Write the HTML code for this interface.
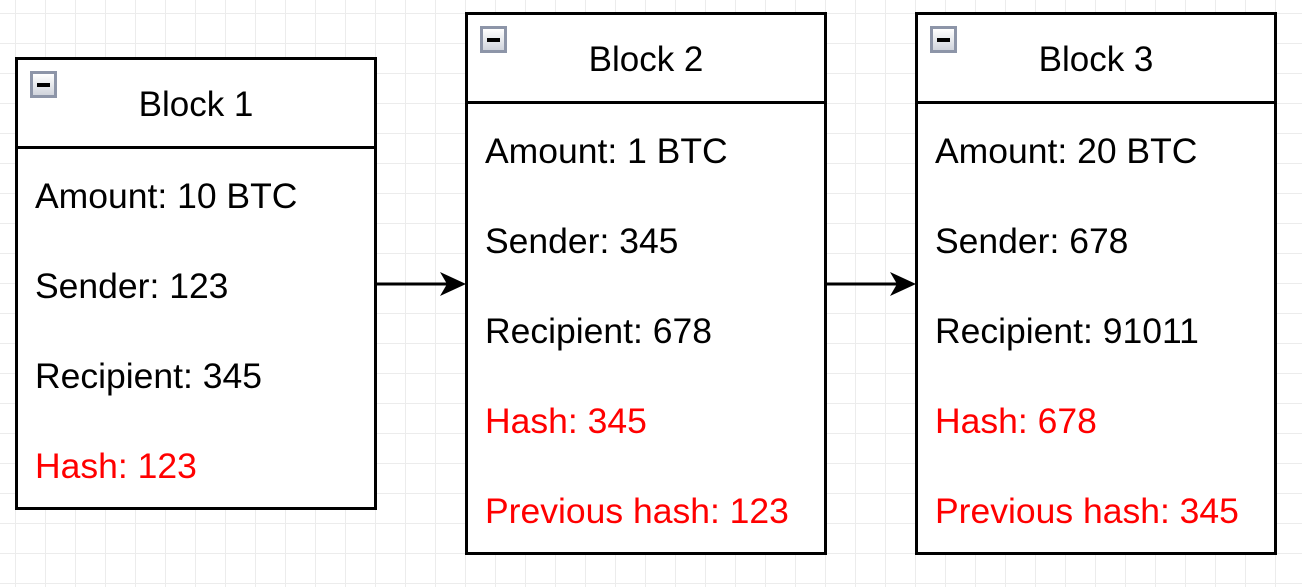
<!DOCTYPE html>
<html><head><style>
body{margin:0;width:1302px;height:587px;overflow:hidden;background:#fff;
background-image:linear-gradient(#ececec 1px,transparent 1px),linear-gradient(90deg,#ececec 1px,transparent 1px);
background-size:30px 30px;background-position:15px 13px;font-family:"Liberation Sans",Arial,sans-serif;position:relative}
.b{position:absolute;box-sizing:border-box;border:3px solid #000;background:#fff;width:362px}
.h{height:89px;border-bottom:3px solid #000;position:relative;box-sizing:border-box}
.h span{position:absolute;left:0;right:0;text-align:center;top:25px;font-size:35px}
.ic{position:absolute;left:12px;top:11px;width:27px;height:27px;box-sizing:border-box;border:3px solid #8d95a8;background:linear-gradient(#fff,#d0d4dc)}
.ic:after{content:"";position:absolute;left:4px;right:4px;top:9px;height:4px;background:#000}
.r{position:absolute;left:17px;font-size:35.5px;line-height:40px}
.red{color:#f00}
</style></head><body>
<div class="b" style="left:15px;top:57px;height:453px">
<div class="h"><div class="ic"></div><span>Block 1</span></div>
<div class="r" style="top:116px">Amount: 10 BTC</div>
<div class="r" style="top:206px">Sender: 123</div>
<div class="r" style="top:296px">Recipient: 345</div>
<div class="r red" style="top:386px">Hash: 123</div>
</div>
<div class="b" style="left:465px;top:12px;height:543px">
<div class="h"><div class="ic"></div><span>Block 2</span></div>
<div class="r" style="top:116px">Amount: 1 BTC</div>
<div class="r" style="top:206px">Sender: 345</div>
<div class="r" style="top:296px">Recipient: 678</div>
<div class="r red" style="top:386px">Hash: 345</div>
<div class="r red" style="top:476px">Previous hash: 123</div>
</div>
<div class="b" style="left:915px;top:12px;height:543px">
<div class="h"><div class="ic"></div><span>Block 3</span></div>
<div class="r" style="top:116px">Amount: 20 BTC</div>
<div class="r" style="top:206px">Sender: 678</div>
<div class="r" style="top:296px">Recipient: 91011</div>
<div class="r red" style="top:386px">Hash: 678</div>
<div class="r red" style="top:476px">Previous hash: 345</div>
</div>
<svg style="position:absolute;left:0;top:0" width="1302" height="587">
<line x1="377" y1="284" x2="450" y2="284" stroke="#000" stroke-width="3"/>
<path d="M466 284 L440 272 L447 284 L440 296 Z" fill="#000"/>
<line x1="827" y1="284" x2="900" y2="284" stroke="#000" stroke-width="3"/>
<path d="M916 284 L890 272 L897 284 L890 296 Z" fill="#000"/>
</svg>
</body></html>
